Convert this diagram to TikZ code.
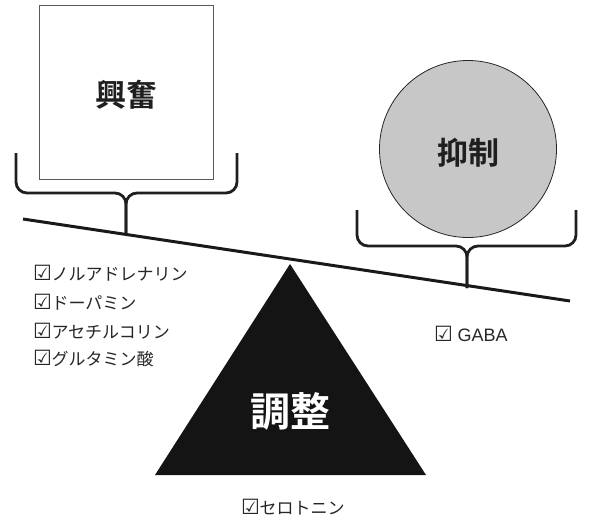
\documentclass[tikz,border=0pt]{standalone}
\usepackage{fontspec}
\newfontfamily\cjk{Noto Sans CJK JP}
\newfontfamily\cjkb{Noto Sans CJK JP Bold}
\newfontfamily\lat{Liberation Sans}
\newfontfamily\sym{DejaVu Sans Bold}
\newcommand{\chk}{{\sym\fontsize{21}{21}\selectfont\raisebox{0pt}[0.8em][0pt]{☑}}\hspace{-0.5pt}}
\begin{document}
\begin{tikzpicture}[x=1pt,y=-1pt,
  beam/.style={line width=3pt,color=black!90},
  brace/.style={line width=2.8pt,color=black!88,rounded corners=11pt},
  title/.style={font=\cjkb\fontsize{31}{31}\selectfont,text=black!88},
  item/.style={font=\cjk\fontsize{17}{17}\selectfont,text=black!85,anchor=west,inner sep=0pt}]
\useasboundingbox (0,0) rectangle (589,520);
% excitation square
\node[draw=black!65,line width=0.8pt,minimum width=174pt,minimum height=174pt,inner sep=0pt] (sq) at (126,92) {};
\node[title] (t1) at (126,95) {興奮};
% inhibition circle
\node[circle,draw=black!85,fill=black!22,line width=0.8pt,minimum size=177pt,inner sep=0pt] (ci) at (468,149) {};
\node[title] (t2) at (468,153) {抑制};
% beam
\coordinate (bl) at (23,219);
\coordinate (br) at (570,301);
\draw[beam] (bl) -- (br);
% left brace
\coordinate (l1) at (16,153); \coordinate (l2) at (16,193);
\coordinate (r1) at (237,153); \coordinate (r2) at (237,193);
\coordinate (m1) at (126,193); \coordinate (s1) at (126,234);
\draw[brace] (l1) -- (l2) -- (m1) -- (s1);
\draw[brace] (r1) -- (r2) -- (m1) -- (s1);
% right brace
\coordinate (l3) at (357,210); \coordinate (l4) at (357,246);
\coordinate (r3) at (576,210); \coordinate (r4) at (576,246);
\coordinate (m2) at (467,246); \coordinate (s2) at (467,288);
\draw[brace] (l3) -- (l4) -- (m2) -- (s2);
\draw[brace] (r3) -- (r4) -- (m2) -- (s2);
% fulcrum triangle
\coordinate (ta) at (290,264);
\coordinate (tl) at (155,475);
\coordinate (tr) at (426,475);
\fill[black!92] (ta) -- (tl) -- (tr) -- cycle;
\node[title,text=white,font=\cjkb\fontsize{40}{40}\selectfont] (t3) at (290,411) {調整};
% lists
\node[item] (a1) at (33,272) {\chk ノルアドレナリン};
\node[item] (a2) at (33,301) {\chk ドーパミン};
\node[item] (a3) at (33,330) {\chk アセチルコリン};
\node[item] (a4) at (33,358) {\chk グルタミン酸};
\node[item,font=\lat\fontsize{18}{18}\selectfont] (g1) at (434,333) {\chk\hspace{5pt}GABA};
\node[item] (s5) at (241,506) {\chk セロトニン};
\end{tikzpicture}
\end{document}
